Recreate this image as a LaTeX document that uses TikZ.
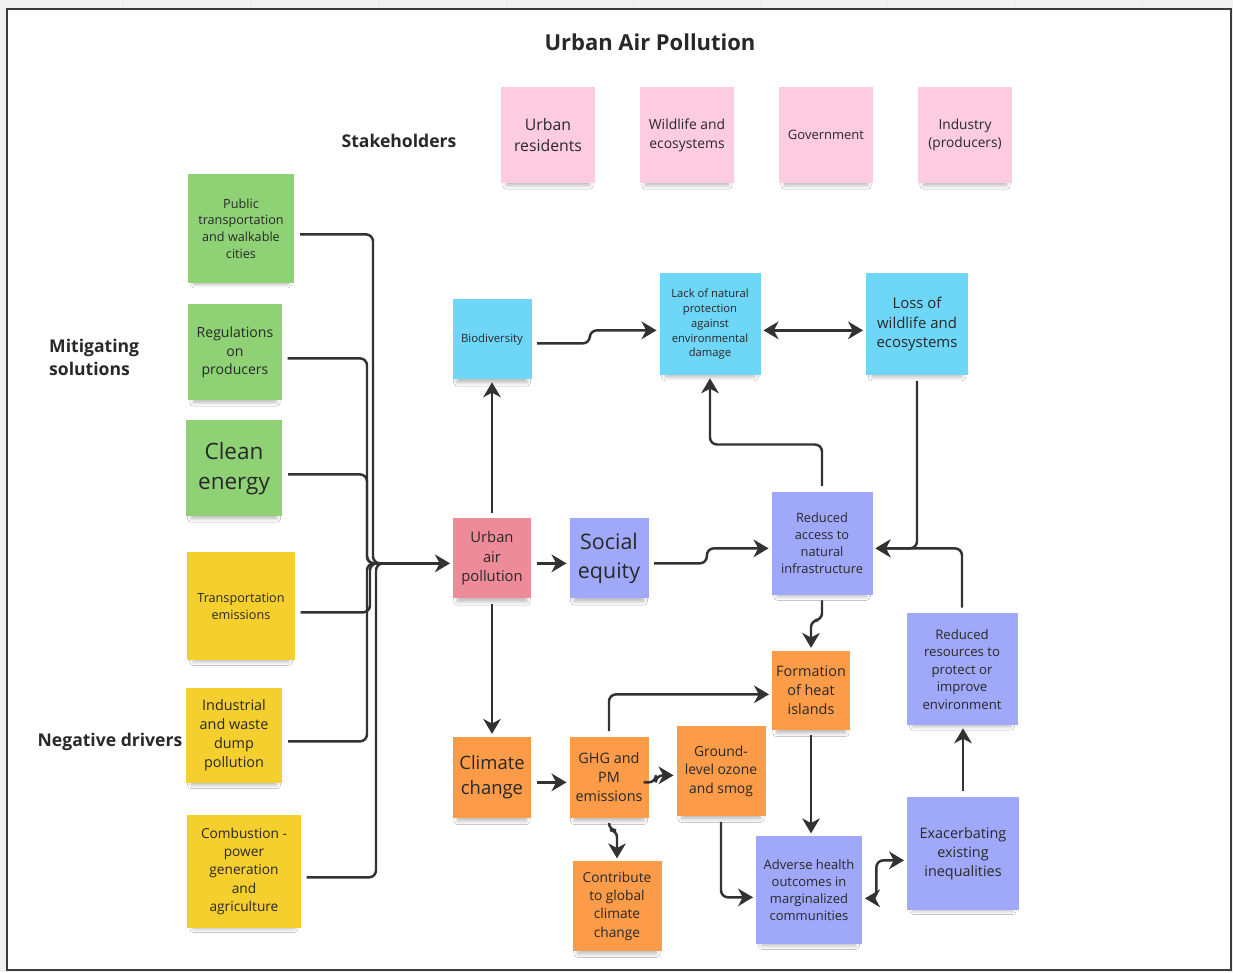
\documentclass[tikz,border=0pt]{standalone}
\usepackage{fontspec}
\setmainfont{Open Sans}
\usetikzlibrary{arrows.meta,calc,shadows.blur}

\definecolor{pagegray}{RGB}{242,242,242}
\definecolor{framegray}{RGB}{60,60,60}
\definecolor{inktext}{RGB}{40,40,40}
\definecolor{inkline}{RGB}{50,50,50}
\definecolor{stakepink}{RGB}{253,204,224}
\definecolor{mitgreen}{RGB}{143,210,117}
\definecolor{drvyellow}{RGB}{245,207,45}
\definecolor{envcyan}{RGB}{110,214,246}
\definecolor{corered}{RGB}{238,139,152}
\definecolor{socpurple}{RGB}{160,168,250}
\definecolor{hlthorange}{RGB}{252,156,72}

\newcommand{\fsz}[1]{\fontsize{#1pt}{\fpeval{1.32*#1}pt}\selectfont}

\tikzset{
  note/.style={inner sep=0pt, align=center, text=inktext,
    blur shadow={shadow xshift=0pt, shadow yshift=-5pt, shadow scale=0.88,
      shadow opacity=30, shadow blur steps=8, shadow blur radius=2.5pt}},
  stake/.style={note, fill=stakepink, minimum width=1.88cm, minimum height=1.92cm},
  mitig/.style={note, fill=mitgreen},
  driver/.style={note, fill=drvyellow},
  envnote/.style={note, fill=envcyan},
  socnote/.style={note, fill=socpurple},
  hlthnote/.style={note, fill=hlthorange},
  heading/.style={font=\bfseries\fsz{10}, text=inktext},
  link/.style={draw=inkline, line width=1.4pt, rounded corners=4pt, shorten <=3pt},
  arrow/.style={link, -{Stealth[length=8.5pt,width=10pt,inset=2.6pt]}, shorten >=1.5pt},
  twoway/.style={link, {Stealth[length=8.5pt,width=10pt,inset=2.6pt]}-{Stealth[length=8.5pt,width=10pt,inset=2.6pt]},
    shorten >=1.5pt, shorten <=1.5pt},
}

\begin{document}
\begin{tikzpicture}[x=0.02cm, y=-0.02cm]

  % board
  \fill[pagegray] (0,0) rectangle (1233,972);
  \foreach \gx in {122,250,378,506,633,760,887,1015,1142}
    \draw[black!8] (\gx,0) -- (\gx,8);
  \draw[framegray, fill=white, line width=1.2pt] (7,9) rectangle (1231,970);
  \useasboundingbox (0,0) rectangle (1233,972);

  % headings
  \node[heading, font=\bfseries\fsz{12.5}] (title) at (650,42) {Urban Air Pollution};
  \node[heading] (stakehd) at (399,141) {Stakeholders};
  \node[heading, align=left, anchor=west] (mithd) at (43,357) {Mitigating\\solutions};
  \node[heading] (drvhd) at (110,742) {Negative drivers};

  % stakeholders
  \node[stake, font=\fsz{9}] (resid) at (548,135) {Urban\\residents};
  \node[stake, font=\fsz{7.9}] (wildst) at (687,135) {Wildlife and\\ecosystems};
  \node[stake, font=\fsz{7.4}] (govt) at (826,135) {Government};
  \node[stake, font=\fsz{7.8}] (industry) at (965,135) {Industry\\(producers)};

  % mitigating solutions
  \node[mitig, minimum width=2.14cm, minimum height=2.18cm, font=\fsz{7.2}] (pubtr) at (241,228)
    {Public\\transportation\\and walkable\\cities};
  \node[mitig, minimum width=1.88cm, minimum height=1.92cm, font=\fsz{8}] (regs) at (235,352)
    {Regulations\\on\\producers};
  \node[mitig, minimum width=1.94cm, minimum height=1.92cm, font=\fsz{12.8}] (clean) at (234,468)
    {Clean\\energy};

  % negative drivers
  \node[driver, minimum width=2.16cm, minimum height=2.16cm, font=\fsz{7.2}] (transp) at (241,606)
    {Transportation\\emissions};
  \node[driver, minimum width=1.94cm, minimum height=1.9cm, font=\fsz{8.2}] (waste) at (234,735)
    {Industrial\\and waste\\dump\\pollution};
  \node[driver, minimum width=2.28cm, minimum height=2.26cm, font=\fsz{7.8}] (combust) at (244,871)
    {Combustion -\\power\\generation\\and\\agriculture};

  % environment
  \node[envnote, minimum width=1.58cm, minimum height=1.6cm, font=\fsz{6.5}] (bio) at (492,339) {Biodiversity};
  \node[envnote, minimum width=2.02cm, minimum height=2.04cm, font=\fsz{6.4}] (lack) at (710,324)
    {Lack of natural\\protection\\against\\environmental\\damage};
  \node[envnote, minimum width=2.04cm, minimum height=2.04cm, font=\fsz{8.5}] (loss) at (917,324)
    {Loss of\\wildlife and\\ecosystems};

  % core
  \node[note, fill=corered, minimum width=1.56cm, minimum height=1.6cm, font=\fsz{8.4}] (uap) at (492,558)
    {Urban\\air\\pollution};

  % social equity
  \node[socnote, minimum width=1.58cm, minimum height=1.6cm, font=\fsz{12.2}] (social) at (609,558)
    {Social\\equity};
  \node[socnote, minimum width=2.02cm, minimum height=2.06cm, font=\fsz{7.3}] (access) at (822,543)
    {Reduced\\access to\\natural\\infrastructure};
  \node[socnote, minimum width=2.22cm, minimum height=2.24cm, font=\fsz{7.5}] (resources) at (962,669)
    {Reduced\\resources to\\protect or\\improve\\environment};
  \node[socnote, minimum width=2.24cm, minimum height=2.26cm, font=\fsz{8.2}] (exacer) at (963,853)
    {Exacerbating\\existing\\inequalities};
  \node[socnote, minimum width=2.12cm, minimum height=2.16cm, font=\fsz{7.4}] (health) at (809,890)
    {Adverse health\\outcomes in\\marginalized\\communities};

  % health / climate
  \node[hlthnote, minimum width=1.56cm, minimum height=1.62cm, font=\fsz{10.5}] (climate) at (492,777)
    {Climate\\change};
  \node[hlthnote, minimum width=1.58cm, minimum height=1.62cm, font=\fsz{8.2}] (ghg) at (609,777)
    {GHG and\\PM\\emissions};
  \node[hlthnote, minimum width=1.78cm, minimum height=1.8cm, font=\fsz{7.9}] (ozone) at (721,771)
    {Ground-\\level ozone\\and smog};
  \node[hlthnote, minimum width=1.56cm, minimum height=1.58cm, font=\fsz{8.2}] (heat) at (811,690)
    {Formation\\of heat\\islands};
  \node[hlthnote, minimum width=1.78cm, minimum height=1.8cm, font=\fsz{7.8}] (global) at (617,906)
    {Contribute\\to global\\climate\\change};

  % solutions and drivers all feed into urban air pollution
  \coordinate (bus) at (400,563);
  \foreach \n/\bx in {pubtr/373, regs/367, clean/367, transp/370, waste/367, combust/376}
    \draw[link] ($(\n.east)+(0,6)$) -| (\bx,563) -- (bus);
  \draw[arrow, shorten <=0pt] (bus) -- (uap.west |- bus);

  \draw[arrow] (uap.north) -- (bio.south); % uap->bio
  \draw[arrow] (uap.south) -- (climate.north); % uap->climate
  \draw[arrow] ($(uap.east)+(0,5)$) -- ($(social.west)+(0,5)$); % uap->social

  \draw[arrow] ($(bio.east)+(0,4)$) -- ++(58,0) |- ($(lack.west)+(0,6)$); % bio->lack
  \draw[twoway] ($(lack.east)+(0,6)$) -- ($(loss.west)+(0,6)$); % lack<->loss
  \draw[arrow] (access.north) -- ++(0,-47) -| (lack.south); % access->lack
  \draw[arrow] (loss.south) |- ($(access.east)+(0,5)$); % loss->access
  \draw[arrow] (resources.north) |- ($(access.east)+(0,5)$); % resources->access
  \draw[arrow] ($(social.east)+(0,5)$) -- ++(58,0) |- ($(access.west)+(0,5)$); % social->access
  \draw[arrow] (access.south) -- ++(0,25) -| (heat.north); % access->heat

  \draw[arrow] ($(climate.east)+(0,5)$) -- ($(ghg.west)+(0,5)$); % climate->ghg
  \draw[arrow] (ghg.north) |- ($(heat.west)+(0,4)$); % ghg->heat
  \draw[arrow] ($(ghg.east)+(0,5)$) -- ++(7,0) |- ($(ozone.west)+(0,4)$); % ghg->ozone
  \draw[arrow] (ghg.south) -- ++(0,12) -| (global.north); % ghg->global
  \draw[arrow] (heat.south) -- (heat.south |- health.north); % heat->health
  \draw[arrow] (ozone.south) |- ($(health.west)+(0,7)$); % ozone->health
  \draw[twoway] ($(health.east)+(0,8)$) -- ++(14,0) |- ($(exacer.west)+(0,7)$); % health<->exacer
  \draw[arrow] (exacer.north) -- (exacer.north |- resources.south); % exacer->resources

\end{tikzpicture}
\end{document}
